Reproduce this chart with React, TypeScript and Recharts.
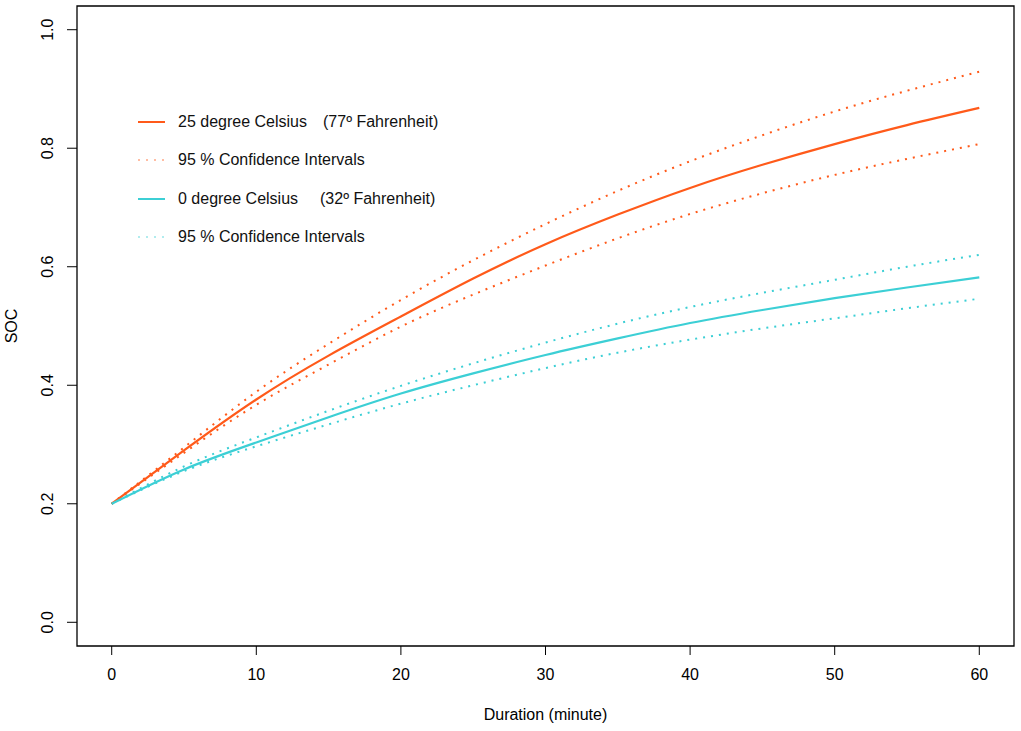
import React from "react";
import {
  LineChart,
  Line,
  XAxis,
  YAxis,
  ReferenceArea,
} from "recharts";

// Duration in minutes (x values)
const minutes = [0, 5, 10, 15, 20, 25, 30, 35, 40, 45, 50, 55, 60];

// 25 degree Celsius: fitted SOC and 95 % bounds
const warmFit = [0.2, 0.29, 0.376, 0.45, 0.516, 0.58, 0.638, 0.688, 0.733, 0.772, 0.807, 0.839, 0.868];
const warmUpper = [0.2, 0.295, 0.389, 0.47, 0.544, 0.611, 0.672, 0.728, 0.778, 0.822, 0.862, 0.897, 0.929];
const warmLower = [0.2, 0.286, 0.367, 0.435, 0.499, 0.553, 0.602, 0.648, 0.689, 0.724, 0.755, 0.782, 0.807];

// 0 degree Celsius: fitted SOC and 95 % bounds
const coldFit = [0.2, 0.258, 0.3035, 0.346, 0.386, 0.42, 0.451, 0.479, 0.505, 0.527, 0.547, 0.565, 0.582];
const coldUpper = [0.2, 0.263, 0.312, 0.357, 0.399, 0.437, 0.472, 0.504, 0.532, 0.556, 0.578, 0.6, 0.62];
const coldLower = [0.2, 0.255, 0.297, 0.334, 0.369, 0.4, 0.429, 0.455, 0.477, 0.496, 0.513, 0.53, 0.546];

// Axis ticks
const xTicks = [0, 10, 20, 30, 40, 50, 60];
const yTicks = [0, 0.2, 0.4, 0.6, 0.8, 1.0];

// Legend labels
const legendRows = [
  { text: "25 degree Celsius", extra: "(77º Fahrenheit)", extraX: 323, key: "warm", dotted: false },
  { text: "95 % Confidence Intervals", extra: "", extraX: 0, key: "warm", dotted: true },
  { text: "0 degree Celsius", extra: "(32º Fahrenheit)", extraX: 320, key: "cold", dotted: false },
  { text: "95 % Confidence Intervals", extra: "", extraX: 0, key: "cold", dotted: true },
];

const ORANGE = "#ff5a1a";
const TEAL = "#3ccfd5";
const FONT = "'Liberation Sans', Arial, Helvetica, sans-serif";
const FS = 16;

const data = minutes.map((t, i) => ({
  t,
  warmFit: warmFit[i],
  warmUpper: warmUpper[i],
  warmLower: warmLower[i],
  coldFit: coldFit[i],
  coldUpper: coldUpper[i],
  coldLower: coldLower[i],
}));

// y tick labels are rotated like R's default axis
const YTick = (props: any) => {
  const { y, payload } = props;
  return (
    <text
      transform={`translate(53,${y}) rotate(-90)`}
      textAnchor="middle"
      fontSize={FS}
      fontFamily={FONT}
      fill="#000"
    >
      {Number(payload.value).toFixed(1)}
    </text>
  );
};

const XTitle = () => (
  <text x={545.5} y={720} textAnchor="middle" fontSize={FS} fontFamily={FONT} fill="#000">
    Duration (minute)
  </text>
);

const YTitle = () => (
  <text
    transform="translate(17,326) rotate(-90)"
    textAnchor="middle"
    fontSize={FS}
    fontFamily={FONT}
    fill="#000"
  >
    SOC
  </text>
);

const LegendBox = () => (
  <div style={{ position: "absolute", left: 0, top: 0, fontFamily: FONT, fontSize: FS, color: "#111" }}>
    {legendRows.map((row, i) => {
      const cy = 122 + i * 38.3;
      const color = row.key === "warm" ? ORANGE : TEAL;
      return (
        <div key={i}>
          <svg
            width={30}
            height={6}
            style={{ position: "absolute", left: 137, top: cy - 3 }}
          >
            <line
              x1={1}
              x2={28}
              y1={3}
              y2={3}
              stroke={color}
              strokeOpacity={row.dotted ? 0.4 : 1}
              strokeWidth={2}
              strokeDasharray={row.dotted ? "2 6" : undefined}
            />
          </svg>
          <span style={{ position: "absolute", left: 178, top: cy - 10, whiteSpace: "nowrap", lineHeight: "20px" }}>
            {row.text}
          </span>
          {row.extra && (
            <span style={{ position: "absolute", left: row.extraX, top: cy - 10, whiteSpace: "nowrap", lineHeight: "20px" }}>
              {row.extra}
            </span>
          )}
        </div>
      );
    })}
  </div>
);

export default function App() {
  const tickStyle = { fontSize: FS, fontFamily: FONT, fill: "#000" };
  return (
    <div style={{ position: "absolute", left: 0, top: 0, width: 1021, height: 731, background: "#fff" }}>
      <LineChart
        width={1021}
        height={731}
        data={data}
        margin={{ top: 6, right: 7, bottom: 25, left: 0 }}
      >
        <XAxis
          dataKey="t"
          type="number"
          domain={[-2.4, 62.4]}
          ticks={xTicks}
          allowDataOverflow
          axisLine={false}
          tickLine={{ stroke: "#000", strokeWidth: 1 }}
          tickSize={9}
          tickMargin={14}
          tick={tickStyle}
          height={60}
          label={XTitle}
        />
        <YAxis
          type="number"
          domain={[-0.04, 1.04]}
          ticks={yTicks}
          allowDataOverflow
          axisLine={false}
          tickLine={{ stroke: "#000", strokeWidth: 1 }}
          tickSize={10}
          tick={<YTick />}
          width={77}
          label={YTitle}
        />
        <ReferenceArea
          x1={-2.4}
          x2={62.4}
          y1={-0.04}
          y2={1.04}
          fill="none"
          stroke="#000"
          strokeWidth={1.3}
          ifOverflow="extendDomain"
        />
        <Line type="natural" dataKey="warmUpper" stroke={ORANGE} strokeWidth={2} strokeDasharray="2 6" dot={false} isAnimationActive={false} />
        <Line type="natural" dataKey="warmLower" stroke={ORANGE} strokeWidth={2} strokeDasharray="2 6" dot={false} isAnimationActive={false} />
        <Line type="natural" dataKey="coldUpper" stroke={TEAL} strokeWidth={2} strokeDasharray="2 6" dot={false} isAnimationActive={false} />
        <Line type="natural" dataKey="coldLower" stroke={TEAL} strokeWidth={2} strokeDasharray="2 6" dot={false} isAnimationActive={false} />
        <Line type="natural" dataKey="warmFit" stroke={ORANGE} strokeWidth={2.2} dot={false} isAnimationActive={false} />
        <Line type="natural" dataKey="coldFit" stroke={TEAL} strokeWidth={2.2} dot={false} isAnimationActive={false} />
      </LineChart>
      <LegendBox />
    </div>
  );
}
